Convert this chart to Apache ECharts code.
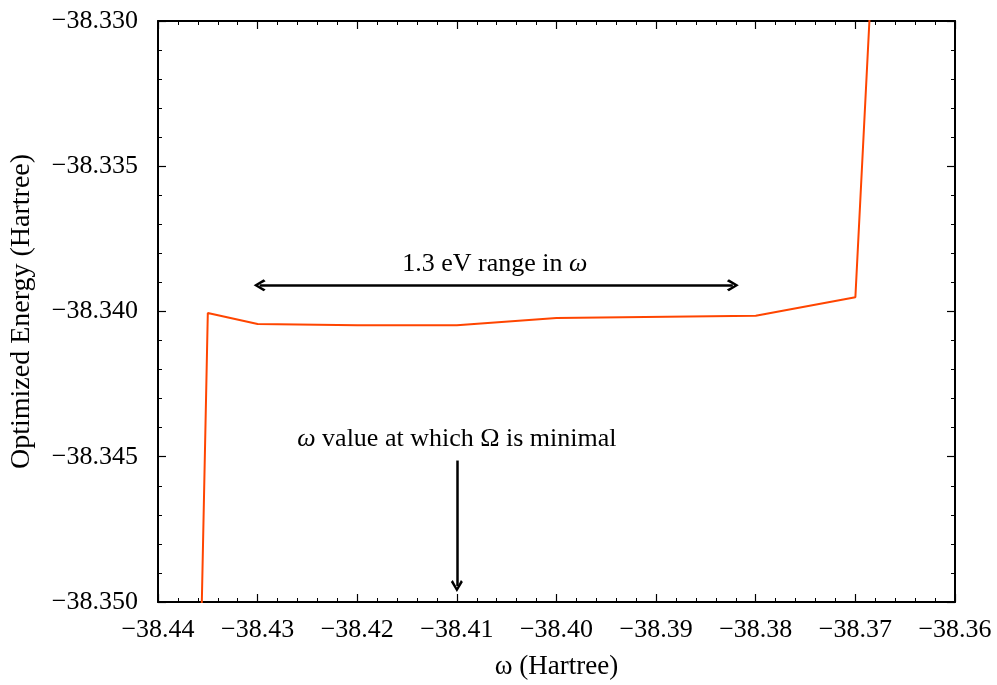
<!DOCTYPE html>
<html>
<head>
<meta charset="utf-8">
<script src="https://cdn.jsdelivr.net/npm/echarts@6/dist/echarts.min.js"></script>
<style>html,body{margin:0;padding:0;background:#fff}#c{width:997px;height:685px}</style>
</head>
<body>
<div id="c"></div>
<script>
// Data
var omega  = [-38.436, -38.4350, -38.43, -38.42, -38.41, -38.40, -38.38, -38.37, -38.368];
var energy = [-38.3566, -38.34005, -38.34043, -38.34047, -38.34047, -38.34022, -38.34015, -38.33951, -38.3260];

var xMin = -38.44, xMax = -38.36, xStep = 0.01;
var yMin = -38.350, yMax = -38.330, yStep = 0.005;

// Annotations (data coordinates)
var rangeArrow = {x1: -38.4298, x2: -38.3823, y: -38.3391};
var rangeText  = {x: -38.4062, y: -38.33838, text: '1.3 eV range in {i|ω}'};
var minArrow   = {x: -38.41, y1: -38.34513, y2: -38.34945};
var minText    = {x: -38.41, y: -38.34440, text: '{i|ω} value at which Ω is minimal'};

var FONT = '"Liberation Serif", "Times New Roman", serif';
var FS = 26;
var chevron = 'path://M5,0 L10,8 L8.4,9.6 L5,3.6 L1.6,9.6 L0,8 Z';

function fmt(d) { return function (v) { return (v < 0 ? '\u2212' : '') + Math.abs(v).toFixed(d); }; }

function axisBase(extra) {
  var a = {
    type: 'value',
    axisLine: {show: true, onZero: false, lineStyle: {color: '#000', width: 2}},
    axisTick: {show: true, inside: true, length: 8, lineStyle: {color: '#000', width: 1.2}},
    minorTick: {show: true, splitNumber: 5, length: 4, lineStyle: {color: '#000', width: 1}},
    splitLine: {show: false},
    minorSplitLine: {show: false}
  };
  for (var k in extra) a[k] = extra[k];
  return a;
}

var chart = echarts.init(document.getElementById('c'), null, {renderer: 'canvas'});
var series = [{
  type: 'line',
  data: omega.map(function (x, i) { return [x, energy[i]]; }),
  showSymbol: false,
  symbol: 'none',
  clip: true,
  lineStyle: {color: '#FF4500', width: 2},
  itemStyle: {color: '#FF4500'},
  animation: false,
  markLine: {
    silent: true,
    animation: false,
    symbol: [chevron, chevron],
    symbolSize: [12, 12],
    lineStyle: {color: '#000', width: 2.5, type: 'solid'},
    label: {show: false},
    data: [
      [{coord: [rangeArrow.x1, rangeArrow.y]}, {coord: [rangeArrow.x2, rangeArrow.y]}],
      [{coord: [minArrow.x, minArrow.y1], symbol: 'none'}, {coord: [minArrow.x, minArrow.y2], symbol: chevron}]
    ]
  },
  markPoint: {
    silent: true,
    animation: false,
    symbol: 'circle',
    symbolSize: 1,
    itemStyle: {color: 'rgba(0,0,0,0)'},
    label: {
      show: true, position: 'inside', color: '#000',
      fontFamily: FONT, fontSize: 26,
      rich: {i: {fontStyle: 'italic', fontFamily: FONT, fontSize: 26, color: '#000'}}
    },
    data: [
      {coord: [rangeText.x, rangeText.y], label: {formatter: rangeText.text}},
      {coord: [minText.x, minText.y], label: {formatter: minText.text}}
    ]
  }
}];

chart.setOption({
  animation: false,
  backgroundColor: '#fff',
  grid: {left: 158, right: 42, top: 21, bottom: 77, containLabel: false},
  xAxis: [
    axisBase({
      position: 'bottom', min: xMin, max: xMax, interval: xStep,
      axisLabel: {show: true, formatter: fmt(2), color: '#000', fontFamily: FONT, fontSize: FS, margin: 15},
      name: 'ω (Hartree)', nameLocation: 'middle', nameGap: 51,
      nameTextStyle: {color: '#000', fontFamily: FONT, fontSize: 27}
    }),
    axisBase({position: 'top', min: xMin, max: xMax, interval: xStep, axisLabel: {show: false}})
  ],
  yAxis: [
    axisBase({
      position: 'left', min: yMin, max: yMax, interval: yStep,
      axisLabel: {show: true, formatter: fmt(3), color: '#000', fontFamily: FONT, fontSize: FS, margin: 20},
      name: 'Optimized Energy (Hartree)', nameLocation: 'middle', nameGap: 122, nameRotate: 90,
      nameTextStyle: {color: '#000', fontFamily: FONT, fontSize: 28}
    }),
    axisBase({position: 'right', min: yMin, max: yMax, interval: yStep, axisLabel: {show: false}})
  ],
  series: series
});
</script>
</body>
</html>
